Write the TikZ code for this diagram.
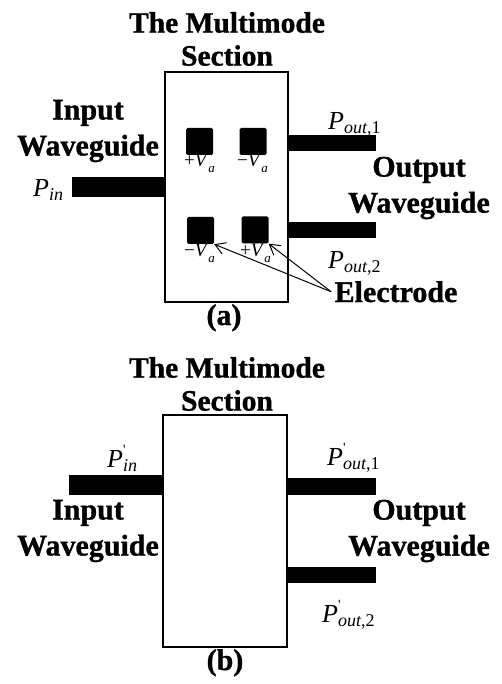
\documentclass[tikz,border=0pt]{standalone}
\usepackage{fontspec}
\setmainfont{Liberation Serif}[BoldFeatures={FakeBold=1}]
\usetikzlibrary{arrows.meta}

\newcommand{\pw}[1]{\textit{P}\raisebox{-4pt}{\fontsize{18}{18}\selectfont #1}}
\newcommand{\pwp}[1]{\textit{P}\rlap{\raisebox{13pt}{\fontsize{14}{14}\selectfont\textquotesingle}}\raisebox{-4pt}{\fontsize{18}{18}\selectfont #1}}
\newcommand{\va}[1]{#1\textit{V}\raisebox{-6pt}{\fontsize{13}{13}\selectfont\textit{a}}}

\tikzset{
  heading/.style={font=\fontsize{29.5}{33}\selectfont\bfseries, align=center},
  wglabel/.style={font=\fontsize{30}{36}\selectfont\bfseries, align=center},
  plabel/.style={font=\fontsize{26}{26}\selectfont, inner sep=0pt, anchor=base west},
  vlabel/.style={font=\fontsize{19}{19}\selectfont, inner sep=0pt, anchor=base west},
  electrode/.style={fill=black, minimum size=27pt, inner sep=0pt, rounded corners=1.5pt},
  mmibox/.style={draw, line width=1.8pt},
  guide/.style={fill=black},
  caption/.style={font=\fontsize{30}{33}\selectfont\bfseries, anchor=base},
}

\begin{document}
\begin{tikzpicture}[x=1pt, y=-1pt]
  \useasboundingbox (0,0) rectangle (501,684);

  %% (a) with electrodes
  \node[heading] (titleA) at (227,39) {The Multimode\\Section};
  \draw[mmibox] (165,72) rectangle (288,302);
  \fill[guide] (72,177) rectangle (164,197);
  \fill[guide] (288,135) rectangle (376,151);
  \fill[guide] (288,222) rectangle (376,238);
  \node[wglabel] (inA) at (88,131) {Input\\Waveguide};
  \node[wglabel] (outA) at (419,188) {Output\\Waveguide};
  \node[plabel] (pinA) at (33,197) {\pw{\textit{in}}};
  \node[plabel] (pout1A) at (328,130) {\pw{\textit{out},1}};
  \node[plabel] (pout2A) at (328,268) {\pw{\textit{out},2}};

  \node[electrode] (e1) at (199.5,141.5) {};
  \node[electrode] (e2) at (253,141.5) {};
  \node[electrode] (e3) at (200.5,230.5) {};
  \node[electrode] (e4) at (255,230) {};
  \node[vlabel] (v1) at (184,167) {\va{+}};
  \node[vlabel] (v2) at (237,167) {\va{−}};
  \node[vlabel] (v3) at (184,256) {\va{−}};
  \node[vlabel] (v4) at (240,256) {\va{+}};

  \node[caption] (elec) at (396,302) {Electrode};
  \draw[line width=1pt, -{Straight Barb[length=10pt, width=12pt]}] (elec.west) -- (e3.south east);
  \draw[line width=1pt, -{Straight Barb[length=10pt, width=12pt]}] (elec.west) -- (e4.south east);
  \node[caption] (capA) at (224,325) {(a)};

  %% (b) without electrodes
  \node[heading] (titleB) at (227,384) {The Multimode\\Section};
  \draw[mmibox] (163,415) rectangle (287,647);
  \fill[guide] (69,475) rectangle (163,495);
  \fill[guide] (287,478) rectangle (376,495);
  \fill[guide] (287,567) rectangle (376,583);
  \node[wglabel] (inB) at (88,531) {Input\\Waveguide};
  \node[wglabel] (outB) at (419,531) {Output\\Waveguide};
  \node[plabel] (pinB) at (107,467) {\pwp{\textit{in}}};
  \node[plabel] (pout1B) at (327,465) {\pwp{\textit{out},1}};
  \node[plabel] (pout2B) at (322,622) {\pwp{\textit{out},2}};
  \node[caption] (capB) at (225,670) {(b)};
\end{tikzpicture}
\end{document}
